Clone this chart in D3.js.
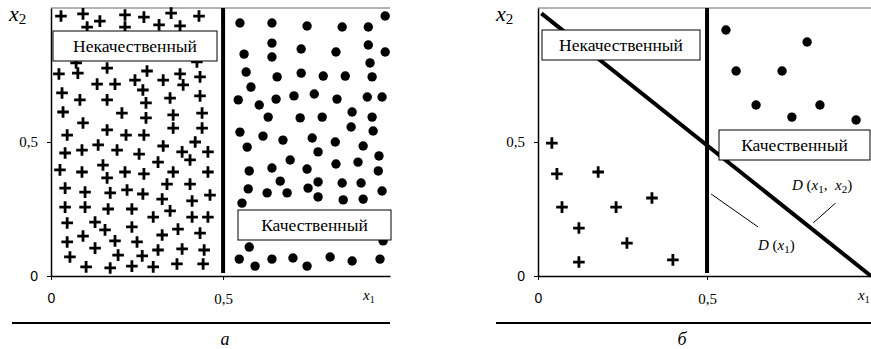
<!DOCTYPE html>
<html>
<head>
<meta charset="utf-8">
<script src="https://cdn.jsdelivr.net/npm/d3@7"></script>
<style>
  body { margin: 0; background: #fff; }
  svg text { fill: #000; }
  .serif { font-family: "Liberation Serif", "Times New Roman", serif; }
  .sans { font-family: "Liberation Sans", Arial, sans-serif; }
</style>
</head>
<body>
<div class="holder"></div>
<script>
"use strict";

// ---- data ----
const tickValues = [0, 0.5];
const tickLabels = ["0", "0,5"];

// panel "а": + points (x1, x2)
const leftPlus = [
  [0.029, 0.970], [0.093, 0.978], [0.142, 0.951], [0.215, 0.974], [0.270, 0.966],
  [0.349, 0.981], [0.430, 0.970], [0.105, 0.929], [0.215, 0.929], [0.314, 0.937],
  [0.375, 0.933], [0.073, 0.795], [0.424, 0.799], [0.023, 0.754], [0.078, 0.757],
  [0.163, 0.776], [0.279, 0.765], [0.375, 0.754], [0.433, 0.743], [0.134, 0.716],
  [0.186, 0.716], [0.244, 0.731], [0.326, 0.731], [0.384, 0.713], [0.267, 0.694],
  [0.032, 0.683], [0.346, 0.664], [0.433, 0.672], [0.084, 0.657], [0.163, 0.657],
  [0.276, 0.646], [0.035, 0.612], [0.206, 0.608], [0.355, 0.601], [0.439, 0.608],
  [0.276, 0.590], [0.093, 0.571], [0.047, 0.526], [0.163, 0.545], [0.218, 0.526],
  [0.270, 0.526], [0.355, 0.552], [0.439, 0.552], [0.041, 0.459], [0.090, 0.470],
  [0.137, 0.489], [0.192, 0.470], [0.256, 0.455], [0.326, 0.485], [0.381, 0.463],
  [0.419, 0.500], [0.456, 0.463], [0.026, 0.396], [0.090, 0.388], [0.151, 0.414],
  [0.215, 0.388], [0.270, 0.381], [0.311, 0.425], [0.355, 0.388], [0.404, 0.433],
  [0.456, 0.388], [0.163, 0.366], [0.041, 0.328], [0.099, 0.313], [0.172, 0.310],
  [0.221, 0.321], [0.267, 0.306], [0.337, 0.343], [0.404, 0.343], [0.323, 0.287],
  [0.410, 0.280], [0.462, 0.302], [0.041, 0.257], [0.099, 0.257], [0.166, 0.250],
  [0.235, 0.250], [0.297, 0.220], [0.346, 0.243], [0.410, 0.220], [0.456, 0.220],
  [0.047, 0.198], [0.128, 0.201], [0.157, 0.172], [0.235, 0.183], [0.323, 0.153],
  [0.369, 0.175], [0.433, 0.160], [0.047, 0.127], [0.093, 0.149], [0.186, 0.131],
  [0.250, 0.127], [0.128, 0.104], [0.311, 0.097], [0.381, 0.101], [0.445, 0.097],
  [0.055, 0.071], [0.195, 0.078], [0.265, 0.075], [0.102, 0.034], [0.172, 0.030],
  [0.235, 0.037], [0.297, 0.034], [0.366, 0.045], [0.442, 0.045]
];

// panel "а": dot points
const leftDots = [
  [0.549, 0.944], [0.642, 0.944], [0.744, 0.933], [0.846, 0.929], [0.922, 0.929],
  [0.971, 0.970], [0.642, 0.869], [0.727, 0.847], [0.828, 0.836], [0.922, 0.862],
  [0.971, 0.836], [0.561, 0.828], [0.642, 0.817], [0.927, 0.795], [0.567, 0.761],
  [0.657, 0.743], [0.727, 0.757], [0.791, 0.746], [0.855, 0.746], [0.933, 0.743],
  [0.581, 0.705], [0.544, 0.657], [0.605, 0.638], [0.654, 0.660], [0.706, 0.672],
  [0.765, 0.679], [0.831, 0.660], [0.919, 0.668], [0.962, 0.668], [0.631, 0.593],
  [0.724, 0.590], [0.788, 0.593], [0.875, 0.612], [0.933, 0.593], [0.549, 0.537],
  [0.616, 0.522], [0.674, 0.507], [0.759, 0.515], [0.826, 0.500], [0.872, 0.556],
  [0.936, 0.541], [0.570, 0.481], [0.776, 0.463], [0.907, 0.485], [0.953, 0.448],
  [0.576, 0.392], [0.642, 0.403], [0.695, 0.433], [0.744, 0.399], [0.828, 0.418],
  [0.892, 0.425], [0.951, 0.392], [0.666, 0.354], [0.573, 0.325], [0.628, 0.310],
  [0.686, 0.310], [0.747, 0.328], [0.776, 0.351], [0.846, 0.347], [0.901, 0.347],
  [0.776, 0.295], [0.849, 0.284], [0.907, 0.287], [0.962, 0.317], [0.555, 0.272],
  [0.965, 0.131], [0.576, 0.108], [0.547, 0.063], [0.593, 0.037], [0.642, 0.063],
  [0.703, 0.067], [0.744, 0.037], [0.811, 0.071], [0.875, 0.056], [0.956, 0.063]
];

// panel "б"
const rightPlus = [
  [0.041, 0.496], [0.056, 0.381], [0.178, 0.388], [0.071, 0.257], [0.231, 0.257],
  [0.121, 0.179], [0.263, 0.123], [0.121, 0.052], [0.337, 0.291], [0.399, 0.060]
];
const rightDots = [
  [0.556, 0.918], [0.796, 0.873], [0.586, 0.765], [0.722, 0.765],
  [0.645, 0.638], [0.834, 0.638], [0.751, 0.593], [0.941, 0.582]
];

const boundary1 = 0.5;                       // D(x1): x1 = 0.5
const boundary2 = [[0.01, 0.98], [0.985, 0]]; // D(x1, x2)

const w = 871;
const h = 349;

const svg = d3
  .select(".holder")
  .append("svg")
  .attr("width", w)
  .attr("height", h);

const plusPath = "M-5.8,0H5.8M0,-5.8V5.8";

const drawPanel = (p) => {
  const x = d3.scaleLinear().domain([0, 0.985]).range([p.x0, p.x1]);
  const y = d3.scaleLinear().domain([0, 1]).range([276, 8]);
  const g = svg.append("g");

  // top frame line
  g.append("line")
    .attr("x1", p.x0).attr("x2", p.x1)
    .attr("y1", y(1)).attr("y2", y(1))
    .attr("stroke", "#9a9a9a").attr("stroke-width", 1.5);

  const yAxis = d3.axisLeft(y).tickValues(tickValues).tickSize(4).tickSizeOuter(0).tickPadding(9)
    .tickFormat((d, i) => tickLabels[i]);
  const xAxis = d3.axisBottom(x).tickValues(tickValues).tickSize(4).tickSizeOuter(0).tickPadding(13)
    .tickFormat((d, i) => tickLabels[i]);

  [g.append("g").attr("transform", "translate(" + p.x0 + ",0)").call(yAxis),
   g.append("g").attr("transform", "translate(0,276)").call(xAxis)]
    .forEach((ax) => {
      ax.attr("font-family", null).attr("font-size", null);
      ax.select(".domain").attr("stroke", "#000").attr("stroke-width", 1.5);
      ax.selectAll(".tick line").attr("stroke", "#000");
      ax.selectAll(".tick text")
        .attr("fill", "#000")
        .attr("class", (d) => (d === 0 ? "sans" : "serif"))
        .style("font-size", (d) => (d === 0 ? "14px" : "15px"));
    });

  // markers
  g.selectAll("path.plus")
    .data(p.plus)
    .enter()
    .append("path")
    .attr("class", "plus")
    .attr("d", plusPath)
    .attr("transform", (d) => "translate(" + x(d[0]) + "," + y(d[1]) + ")")
    .attr("stroke", "#000")
    .attr("stroke-width", 2.8)
    .attr("fill", "none");

  g.selectAll("circle.dot")
    .data(p.dots)
    .enter()
    .append("circle")
    .attr("class", "dot")
    .attr("cx", (d) => x(d[0]))
    .attr("cy", (d) => y(d[1]))
    .attr("r", 4.7)
    .attr("fill", "#000");

  // vertical boundary
  g.append("line")
    .attr("x1", x(boundary1)).attr("x2", x(boundary1))
    .attr("y1", y(1)).attr("y2", 273)
    .attr("stroke", "#000").attr("stroke-width", 4);

  if (p.diag) {
    g.append("line")
      .attr("x1", x(boundary2[0][0])).attr("y1", y(boundary2[0][1]))
      .attr("x2", x(boundary2[1][0])).attr("y2", y(boundary2[1][1]))
      .attr("stroke", "#000").attr("stroke-width", 4);
  }

  // class boxes
  p.boxes.forEach((b) => {
    g.append("rect")
      .attr("x", b.x).attr("y", b.y)
      .attr("width", b.w).attr("height", b.h)
      .attr("fill", "#fff").attr("stroke", "#000").attr("stroke-width", 1);
    g.append("text")
      .attr("class", "serif")
      .attr("x", b.x + b.w / 2).attr("y", b.y + b.h / 2 + 6)
      .attr("text-anchor", "middle")
      .style("font-size", "17.5px")
      .text(b.text);
  });

  // axis names
  const x2 = g.append("text")
    .attr("class", "serif")
    .attr("x", p.x0 - 42).attr("y", 21)
    .style("font-size", "22px");
  x2.append("tspan").style("font-style", "italic").text("x");
  x2.append("tspan").attr("dy", 3).style("font-size", "15px").text("2");

  const x1 = g.append("text")
    .attr("class", "serif")
    .attr("x", p.x1 - p.x1Off).attr("y", 300)
    .style("font-size", "15px");
  x1.append("tspan").style("font-style", "italic").text("x");
  x1.append("tspan").attr("dy", 3).style("font-size", "10px").text("1");

  // bottom rule and caption
  g.append("line")
    .attr("x1", p.ruleX0).attr("x2", p.x1)
    .attr("y1", 323).attr("y2", 323)
    .attr("stroke", "#000").attr("stroke-width", 2.2);
  g.append("text")
    .attr("class", "serif")
    .attr("x", p.capX).attr("y", 345)
    .attr("text-anchor", "middle")
    .style("font-size", "18px").style("font-style", "italic")
    .text(p.caption);

  return { x, y, g };
};

drawPanel({
  x0: 51, x1: 390, x1Off: 27, ruleX0: 12, capX: 225, caption: "а",
  plus: leftPlus, dots: leftDots, diag: false,
  boxes: [
    { x: 53, y: 31, w: 164, h: 30, text: "Некачественный" },
    { x: 238, y: 210, w: 153, h: 30, text: "Качественный" }
  ]
});

const right = drawPanel({
  x0: 538, x1: 871, x1Off: 13, ruleX0: 496, capX: 682, caption: "б",
  plus: rightPlus, dots: rightDots, diag: true,
  boxes: [
    { x: 542, y: 30, w: 158, h: 30, text: "Некачественный" },
    { x: 719, y: 130, w: 151, h: 30, text: "Качественный" }
  ]
});

// leader lines and boundary names in panel "б"
const leaders = [
  { from: [0.512, 0.306], to: [0.651, 0.183], tx: 758, ty: 250, sub: ["1"] },
  { from: [0.814, 0.198], to: [0.880, 0.272], tx: 792, ty: 190, sub: ["1", "2"] }
];
leaders.forEach((l) => {
  right.g.append("line")
    .attr("x1", right.x(l.from[0])).attr("y1", right.y(l.from[1]))
    .attr("x2", right.x(l.to[0])).attr("y2", right.y(l.to[1]))
    .attr("stroke", "#000").attr("stroke-width", 1);
  const t = right.g.append("text")
    .attr("class", "serif")
    .attr("x", l.tx).attr("y", l.ty)
    .style("font-size", "15px");
  t.append("tspan").style("font-style", "italic").text("D");
  t.append("tspan").text(" (");
  l.sub.forEach((s, i) => {
    if (i > 0) t.append("tspan").attr("dy", -3).text(",  ").style("white-space", "pre");
    t.append("tspan").style("font-style", "italic").text("x");
    t.append("tspan").attr("dy", 3).style("font-size", "11px").text(s);
  });
  t.append("tspan").attr("dy", -3).text(")");
});
</script>
</body>
</html>
